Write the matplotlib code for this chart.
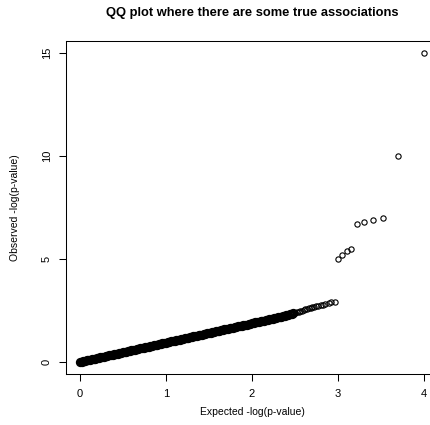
import numpy as np
import matplotlib
matplotlib.use('Agg')
import matplotlib.pyplot as plt

plt.rcParams['font.family'] = ['Liberation Sans', 'DejaVu Sans']

expected = [
    0.00, 0.02, 0.04, 0.06, 0.08, 0.10, 0.12, 0.14, 0.16, 0.18,
    0.20, 0.22, 0.24, 0.26, 0.28, 0.30, 0.32, 0.34, 0.36, 0.38,
    0.40, 0.42, 0.44, 0.46, 0.48, 0.50, 0.52, 0.54, 0.56, 0.58,
    0.60, 0.62, 0.64, 0.66, 0.68, 0.70, 0.72, 0.74, 0.76, 0.78,
    0.80, 0.82, 0.84, 0.86, 0.88, 0.90, 0.92, 0.94, 0.96, 0.98,
    1.00, 1.02, 1.04, 1.06, 1.08, 1.10, 1.12, 1.14, 1.16, 1.18,
    1.20, 1.22, 1.24, 1.26, 1.28, 1.30, 1.32, 1.34, 1.36, 1.38,
    1.40, 1.42, 1.44, 1.46, 1.48, 1.50, 1.52, 1.54, 1.56, 1.58,
    1.60, 1.62, 1.64, 1.66, 1.68, 1.70, 1.72, 1.74, 1.76, 1.78,
    1.80, 1.82, 1.84, 1.86, 1.88, 1.90, 1.92, 1.94, 1.96, 1.98,
    2.00, 2.02, 2.04, 2.06, 2.08, 2.10, 2.12, 2.14, 2.16, 2.18,
    2.20, 2.22, 2.24, 2.26, 2.28, 2.30, 2.32, 2.34, 2.36, 2.38,
    2.40, 2.42, 2.44, 2.46, 2.48, 2.50, 2.52, 2.54, 2.56, 2.58,
    2.60, 2.62, 2.64, 2.66, 2.68, 2.70, 2.72, 2.74, 2.77, 2.80,
    2.82, 2.85, 2.89, 2.92, 2.96,
    3.00, 3.05, 3.10, 3.15, 3.22, 3.30, 3.40, 3.52, 3.70, 4.00,
]
observed = [
    0.00, 0.02, 0.04, 0.06, 0.08, 0.09, 0.11, 0.13, 0.15, 0.17,
    0.19, 0.21, 0.23, 0.24, 0.26, 0.28, 0.30, 0.32, 0.34, 0.36,
    0.38, 0.39, 0.41, 0.43, 0.45, 0.47, 0.49, 0.51, 0.53, 0.55,
    0.56, 0.58, 0.60, 0.62, 0.64, 0.66, 0.68, 0.70, 0.71, 0.73,
    0.75, 0.77, 0.79, 0.81, 0.83, 0.85, 0.86, 0.88, 0.90, 0.92,
    0.94, 0.96, 0.98, 1.00, 1.02, 1.03, 1.05, 1.07, 1.09, 1.11,
    1.13, 1.15, 1.17, 1.18, 1.20, 1.22, 1.24, 1.26, 1.28, 1.30,
    1.32, 1.33, 1.35, 1.37, 1.39, 1.41, 1.43, 1.45, 1.47, 1.49,
    1.50, 1.52, 1.54, 1.56, 1.58, 1.60, 1.62, 1.64, 1.65, 1.67,
    1.69, 1.71, 1.73, 1.75, 1.77, 1.79, 1.80, 1.82, 1.84, 1.86,
    1.88, 1.90, 1.92, 1.94, 1.96, 1.97, 1.99, 2.01, 2.03, 2.05,
    2.07, 2.09, 2.11, 2.13, 2.15, 2.17, 2.19, 2.21, 2.23, 2.25,
    2.28, 2.30, 2.32, 2.34, 2.36, 2.39, 2.41, 2.44, 2.46, 2.49,
    2.52, 2.55, 2.58, 2.60, 2.62, 2.65, 2.67, 2.70, 2.73, 2.76,
    2.79, 2.82, 2.86, 2.89, 2.93,
    5.00, 5.20, 5.40, 5.50, 6.70, 6.80, 6.90, 7.00, 10.00, 15.00,
]
x_ticks = [0, 1, 2, 3, 4]
y_ticks = [0, 5, 10, 15]

exp_arr = np.array(expected)
obs_arr = np.array(observed)
dense = exp_arr < 2.5  # 密集段叠得很厚

fig = plt.figure(figsize=(4.3, 4.25), dpi=100)
ax = fig.add_axes([66 / 430, 50.6 / 425, 372 / 430, 333.8 / 425])

ax.plot(exp_arr[dense], obs_arr[dense], linestyle='none', marker='o', markersize=5.0,
        markerfacecolor='none', markeredgecolor='black', markeredgewidth=1.7)
ax.plot(exp_arr[~dense], obs_arr[~dense], linestyle='none', marker='o', markersize=3.8,
        markerfacecolor='none', markeredgecolor='black', markeredgewidth=0.8)

ax.set_xlim(-0.16, 4.16)
ax.set_ylim(-0.6, 15.6)
ax.set_xticks(x_ticks)
ax.set_yticks(y_ticks)
ax.tick_params(direction='out', length=5, width=0.75, labelsize=8, pad=5.2)
for lab in ax.get_yticklabels():
    lab.set_rotation(90)
    lab.set_va('center')
for s in ax.spines.values():
    s.set_linewidth(0.75)

ax.set_xlabel('Expected -log(p-value)', fontsize=7.5)
ax.set_ylabel('Observed -log(p-value)', fontsize=7.5)
ax.xaxis.set_label_coords(0.5, (374.4 - 412) / 333.8)
ax.yaxis.set_label_coords((15 - 66) / 372, 0.5)
ax.xaxis.label.set_va('center')
ax.yaxis.label.set_va('center')

ax.set_title('QQ plot where there are some true associations', fontsize=9.3,
             fontweight='bold', y=(374.4 - 13) / 333.8, va='center', pad=0)

fig.savefig('out.png', dpi=100)
